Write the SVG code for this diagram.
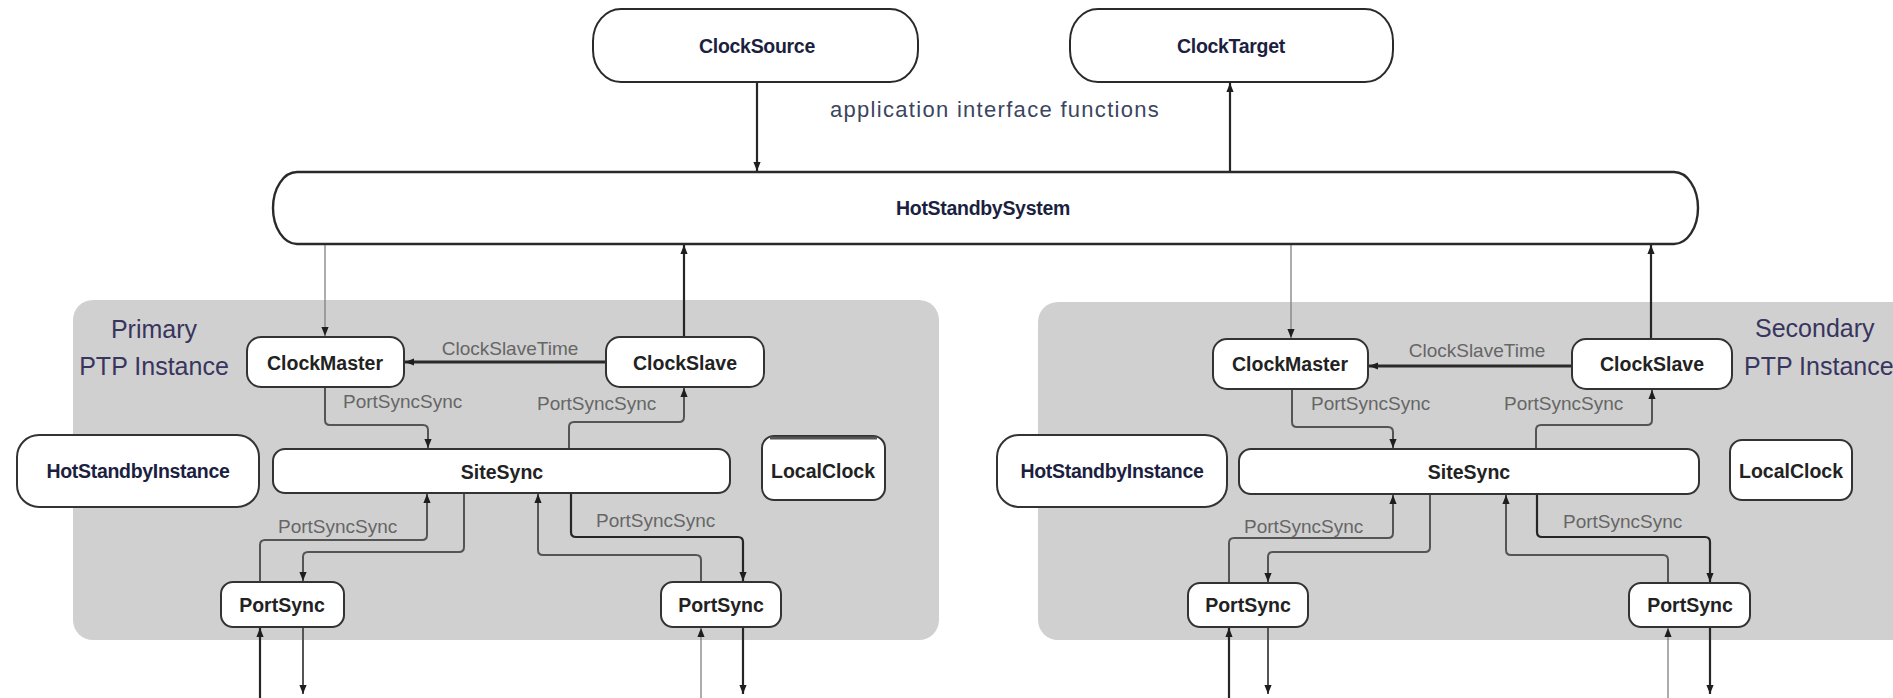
<svg xmlns="http://www.w3.org/2000/svg" width="1893" height="698" viewBox="0 0 1893 698">
<style>
.bg{fill:#ffffff}
.panel{fill:#d0d0d0}
.node{fill:#ffffff;stroke:#333333;stroke-width:2}
.big{fill:#ffffff;stroke:#2a2a2a;stroke-width:2}
.nl{font-family:"Liberation Sans",Arial,sans-serif;font-weight:bold;font-size:19.5px;fill:#222222;text-anchor:middle}
.nb{font-family:"Liberation Sans",Arial,sans-serif;font-weight:bold;font-size:19.5px;fill:#1c1f40;text-anchor:middle;letter-spacing:-0.3px}
.cl{font-family:"Liberation Sans",Arial,sans-serif;font-size:19px;fill:#666666}
.inst{font-family:"Liberation Sans",Arial,sans-serif;font-size:25px;fill:#38355e}
.app{font-family:"Liberation Sans",Arial,sans-serif;font-size:22px;fill:#3a4560;letter-spacing:1.3px}
.dk{fill:none;stroke:#262626;stroke-width:2.2}
.md{fill:none;stroke:#555555;stroke-width:2}
.lt{fill:none;stroke:#808080;stroke-width:1.3}
.th{fill:none;stroke:#2a2a2a;stroke-width:3}
</style>
<defs>
<marker id="ah" viewBox="0 0 10 10" refX="10" refY="5" markerWidth="9" markerHeight="9" markerUnits="userSpaceOnUse" orient="auto">
<path d="M0,1 L10,5 L0,9 z" fill="#1e1e1e"/>
</marker>
</defs>
<rect class="bg" x="0" y="0" width="1893" height="698"/>

<g id="panels">
<rect id="primary-panel" class="panel" x="73" y="300" width="866" height="340" rx="20"/>
<rect id="secondary-panel" class="panel" x="1038" y="302" width="880" height="338" rx="20"/>
<text class="inst" x="154" y="338" text-anchor="middle">Primary</text>
<text class="inst" x="154" y="375" text-anchor="middle">PTP Instance</text>
<text class="inst" x="1755" y="337">Secondary</text>
<text class="inst" x="1744" y="375">PTP Instance</text>
</g>

<g id="connectors">
<!-- top -->
<path class="dk" d="M757 82 V171" marker-end="url(#ah)"/>
<path class="dk" d="M1230 172 V83" marker-end="url(#ah)"/>
<text class="app" x="830" y="117">application interface functions</text>
<!-- primary -->
<path class="lt" d="M325 244 V336" marker-end="url(#ah)"/>
<path class="dk" d="M684 337 V245" marker-end="url(#ah)"/>
<path class="th" d="M606 362 H405" marker-end="url(#ah)"/>
<text class="cl" x="510" y="355" text-anchor="middle">ClockSlaveTime</text>
<path class="md" d="M325 387 V420 Q325 425 330 425 H423 Q428 425 428 430 V448" marker-end="url(#ah)"/>
<text class="cl" x="343" y="408">PortSyncSync</text>
<path class="md" d="M569 449 V427 Q569 422 574 422 H679 Q684 422 684 417 V388" marker-end="url(#ah)"/>
<text class="cl" x="537" y="410">PortSyncSync</text>
<path class="md" d="M260 582 V545 Q260 540 265 540 H422 Q427 540 427 535 V494" marker-end="url(#ah)"/>
<text class="cl" x="278" y="533">PortSyncSync</text>
<path class="md" d="M464 493 V547 Q464 552 459 552 H308 Q303 552 303 557 V581" marker-end="url(#ah)"/>
<path class="md" d="M701 582 V560 Q701 555 696 555 H543 Q538 555 538 550 V494" marker-end="url(#ah)"/>
<path class="dk" d="M571 493 V532 Q571 537 576 537 H738 Q743 537 743 542 V581" marker-end="url(#ah)"/>
<text class="cl" x="596" y="527">PortSyncSync</text>
<path class="dk" d="M260 698 V628" marker-end="url(#ah)"/>
<path class="md" d="M303 627 V694" marker-end="url(#ah)"/>
<path class="lt" d="M701 698 V628" marker-end="url(#ah)"/>
<path class="dk" d="M743 627 V694" marker-end="url(#ah)"/>
<!-- secondary -->
<path class="lt" d="M1291 244 V338" marker-end="url(#ah)"/>
<path class="dk" d="M1651 339 V245" marker-end="url(#ah)"/>
<path class="th" d="M1572 366 H1369" marker-end="url(#ah)"/>
<text class="cl" x="1477" y="357" text-anchor="middle">ClockSlaveTime</text>
<path class="md" d="M1292 389 V422 Q1292 427 1297 427 H1388 Q1393 427 1393 432 V448" marker-end="url(#ah)"/>
<text class="cl" x="1311" y="410">PortSyncSync</text>
<path class="md" d="M1536 449 V430 Q1536 425 1541 425 H1647 Q1652 425 1652 420 V390" marker-end="url(#ah)"/>
<text class="cl" x="1504" y="410">PortSyncSync</text>
<path class="md" d="M1229 583 V543 Q1229 538 1234 538 H1388 Q1393 538 1393 533 V495" marker-end="url(#ah)"/>
<text class="cl" x="1244" y="533">PortSyncSync</text>
<path class="md" d="M1430 494 V547 Q1430 552 1425 552 H1273 Q1268 552 1268 557 V582" marker-end="url(#ah)"/>
<path class="md" d="M1668 583 V560 Q1668 555 1663 555 H1511 Q1506 555 1506 550 V495" marker-end="url(#ah)"/>
<path class="dk" d="M1537 494 V532 Q1537 537 1542 537 H1705 Q1710 537 1710 542 V582" marker-end="url(#ah)"/>
<text class="cl" x="1563" y="528">PortSyncSync</text>
<path class="dk" d="M1229 698 V628" marker-end="url(#ah)"/>
<path class="md" d="M1268 627 V694" marker-end="url(#ah)"/>
<path class="lt" d="M1668 698 V628" marker-end="url(#ah)"/>
<path class="dk" d="M1710 627 V694" marker-end="url(#ah)"/>
</g>

<g id="ClockSource">
<rect class="big" x="593" y="9" width="325" height="73" rx="28" ry="32"/>
<text class="nb" x="757" y="53">ClockSource</text>
</g>
<g id="ClockTarget">
<rect class="big" x="1070" y="9" width="323" height="73" rx="28" ry="32"/>
<text class="nb" x="1231" y="53">ClockTarget</text>
</g>
<g id="HotStandbySystem">
<rect class="big" x="273" y="172" width="1425" height="72" rx="24" ry="36" style="stroke-width:2.4"/>
<text class="nb" x="983" y="215">HotStandbySystem</text>
</g>

<g id="P-ClockMaster">
<rect class="node" x="247" y="337" width="157" height="50" rx="14"/>
<text class="nl" x="325" y="370">ClockMaster</text>
</g>
<g id="P-ClockSlave">
<rect class="node" x="606" y="337" width="158" height="50" rx="14"/>
<text class="nl" x="685" y="370">ClockSlave</text>
</g>
<g id="P-HotStandbyInstance">
<rect class="node" x="17" y="435" width="242" height="72" rx="22"/>
<text class="nb" x="138" y="478">HotStandbyInstance</text>
</g>
<g id="P-SiteSync">
<rect class="node" x="273" y="449" width="457" height="44" rx="12"/>
<text class="nl" x="502" y="479">SiteSync</text>
</g>
<g id="P-LocalClock">
<rect class="node" x="762" y="436" width="123" height="64" rx="12"/>
<path d="M770 438 H877" stroke="#555555" stroke-width="3" fill="none"/>
<text class="nl" x="823" y="478">LocalClock</text>
</g>
<g id="P-PortSync-1">
<rect class="node" x="221" y="582" width="123" height="45" rx="12"/>
<text class="nl" x="282" y="612">PortSync</text>
</g>
<g id="P-PortSync-2">
<rect class="node" x="661" y="582" width="120" height="45" rx="12"/>
<text class="nl" x="721" y="612">PortSync</text>
</g>

<g id="S-ClockMaster">
<rect class="node" x="1213" y="339" width="155" height="50" rx="14"/>
<text class="nl" x="1290" y="371">ClockMaster</text>
</g>
<g id="S-ClockSlave">
<rect class="node" x="1572" y="339" width="160" height="50" rx="14"/>
<text class="nl" x="1652" y="371">ClockSlave</text>
</g>
<g id="S-HotStandbyInstance">
<rect class="node" x="997" y="435" width="230" height="72" rx="22"/>
<text class="nb" x="1112" y="478">HotStandbyInstance</text>
</g>
<g id="S-SiteSync">
<rect class="node" x="1239" y="449" width="460" height="45" rx="12"/>
<text class="nl" x="1469" y="479">SiteSync</text>
</g>
<g id="S-LocalClock">
<rect class="node" x="1730" y="440" width="122" height="60" rx="12"/>
<text class="nl" x="1791" y="478">LocalClock</text>
</g>
<g id="S-PortSync-1">
<rect class="node" x="1188" y="583" width="120" height="44" rx="12"/>
<text class="nl" x="1248" y="612">PortSync</text>
</g>
<g id="S-PortSync-2">
<rect class="node" x="1629" y="583" width="121" height="44" rx="12"/>
<text class="nl" x="1690" y="612">PortSync</text>
</g>
</svg>
